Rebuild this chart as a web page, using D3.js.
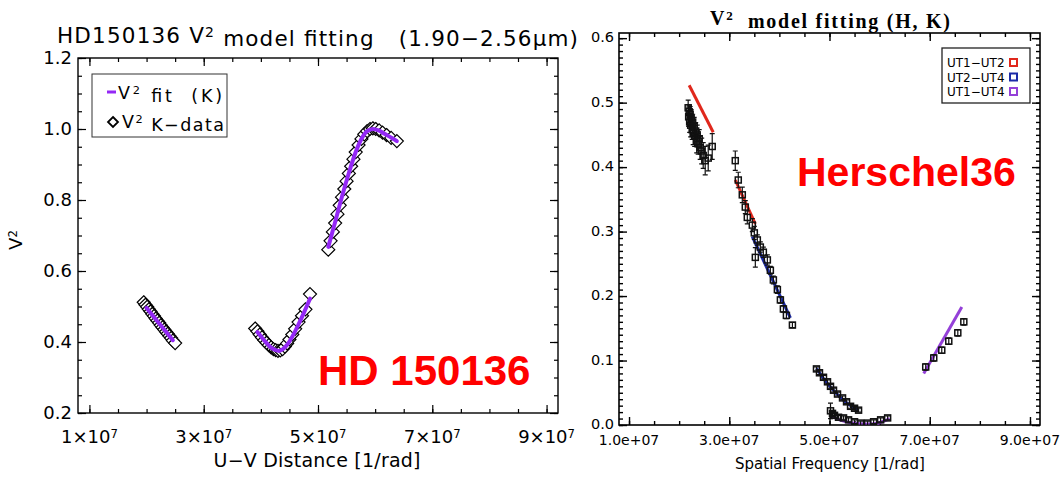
<!DOCTYPE html>
<html>
<head>
<meta charset="utf-8">
<script src="https://cdn.jsdelivr.net/npm/d3@7"></script>
<style>
  body { margin: 0; background: #fff; }
  svg { display: block; font-family: "DejaVu Sans", sans-serif; }
</style>
</head>
<body>
<svg id="chart" width="1062" height="481"></svg>
<script>
// ---------- left panel: HD150136, K band (x in units of 1e7 rad^-1)
const hdTicksX = [1, 3, 5, 7, 9];
const hdTicksY = [0.2, 0.4, 0.6, 0.8, 1.0, 1.2];

const hdX1 = [1.95, 1.98, 2.01, 2.04, 2.07, 2.10, 2.13, 2.16, 2.19, 2.22, 2.25, 2.28, 2.31, 2.34, 2.37, 2.40, 2.43, 2.46, 2.50];
const hdV1 = [0.512, 0.505, 0.499, 0.492, 0.486, 0.479, 0.473, 0.466, 0.460, 0.454, 0.447, 0.441, 0.435, 0.429, 0.423, 0.417, 0.411, 0.404, 0.397];
const hdX2 = [3.90, 3.94, 3.98, 4.02, 4.06, 4.10, 4.14, 4.18, 4.22, 4.26, 4.30, 4.34, 4.38, 4.42, 4.46, 4.50, 4.55, 4.60, 4.66, 4.72, 4.78, 4.86];
const hdV2 = [0.438, 0.430, 0.421, 0.413, 0.405, 0.398, 0.391, 0.385, 0.380, 0.377, 0.375, 0.376, 0.380, 0.387, 0.396, 0.407, 0.421, 0.437, 0.456, 0.474, 0.492, 0.535];
const hdX3 = [5.18, 5.22, 5.26, 5.30, 5.34, 5.38, 5.42, 5.46, 5.50, 5.54, 5.58, 5.62, 5.66, 5.71, 5.76, 5.81, 5.86, 5.91, 5.96, 6.01, 6.07, 6.13, 6.20, 6.28, 6.38];
const hdV3 = [0.660, 0.685, 0.710, 0.735, 0.760, 0.785, 0.808, 0.831, 0.853, 0.875, 0.895, 0.915, 0.935, 0.955, 0.972, 0.985, 0.994, 1.000, 1.002, 1.000, 0.996, 0.990, 0.983, 0.975, 0.966];

const hdFitX = [[2.00, 2.46], [3.94, 4.02, 4.10, 4.18, 4.26, 4.32, 4.38, 4.46, 4.56, 4.66, 4.76, 4.86], [5.18, 5.30, 5.42, 5.54, 5.66, 5.76, 5.86, 5.96, 6.06, 6.18, 6.30, 6.38]];
const hdFitV = [[0.496, 0.405], [0.428, 0.412, 0.397, 0.384, 0.377, 0.375, 0.379, 0.392, 0.418, 0.450, 0.485, 0.522], [0.668, 0.738, 0.810, 0.876, 0.935, 0.972, 0.994, 1.000, 0.996, 0.985, 0.974, 0.966]];

// ---------- right panel: Herschel36, H and K (x in units of 1e7 rad^-1)
const sfTicksX = [1, 3, 5, 7, 9];
const sfTicksY = [0.0, 0.1, 0.2, 0.3, 0.4, 0.5, 0.6];
const sfBaselines = ["UT1\u2212UT2", "UT2\u2212UT4", "UT1\u2212UT4"];

const sfX = [2.18, 2.19, 2.20, 2.21, 2.22, 2.23, 2.24, 2.26, 2.27, 2.28, 2.30, 2.31, 2.33, 2.35, 2.36, 2.38, 2.40, 2.42, 2.45, 2.48, 2.52, 2.58, 2.66,
  3.12, 3.18, 3.26, 3.32, 3.36,
  3.46, 3.50, 3.52, 3.56, 3.62, 3.68, 3.76, 3.82, 3.88, 3.96, 4.02, 4.08, 4.14, 4.26,
  4.74, 4.80, 4.88, 4.96, 5.02, 5.08, 5.16, 5.26, 5.34, 5.42, 5.50, 5.58,
  5.02, 5.06, 5.10, 5.18, 5.28, 5.38, 5.50, 5.62, 5.76, 5.88, 6.02, 6.16,
  6.92, 7.08, 7.24, 7.38, 7.56, 7.68];
const sfV = [0.492, 0.478, 0.486, 0.470, 0.482, 0.465, 0.476, 0.458, 0.470, 0.452, 0.463, 0.448, 0.456, 0.440, 0.450, 0.436, 0.444, 0.430, 0.425, 0.418, 0.410, 0.414, 0.432,
  0.410, 0.380, 0.357, 0.338, 0.322,
  0.310, 0.298, 0.260, 0.287, 0.276, 0.268, 0.256, 0.240, 0.225, 0.210, 0.194, 0.180, 0.170, 0.155,
  0.087, 0.081, 0.074, 0.067, 0.060, 0.054, 0.048, 0.042, 0.036, 0.029, 0.026, 0.023,
  0.022, 0.018, 0.015, 0.012, 0.011, 0.008, 0.005, 0.003, 0.003, 0.005, 0.008, 0.011,
  0.090, 0.104, 0.116, 0.130, 0.143, 0.160];
const sfErr = [0.012, 0.015, 0.010, 0.016, 0.012, 0.018, 0.013, 0.015, 0.012, 0.017, 0.014, 0.016, 0.013, 0.018, 0.015, 0.016, 0.014, 0.018, 0.020, 0.020, 0.022, 0.020, 0.020,
  0.015, 0.012, 0.012, 0.010, 0.010,
  0.010, 0.010, 0.015, 0.008, 0.008, 0.008, 0.008, 0.006, 0.006, 0.006, 0.005, 0.005, 0.005, 0.004,
  0.003, 0.003, 0.003, 0.003, 0.003, 0.003, 0.003, 0.003, 0.003, 0.003, 0.003, 0.003,
  0.012, 0.003, 0.003, 0.003, 0.003, 0.003, 0.003, 0.003, 0.003, 0.003, 0.003, 0.003,
  0.005, 0.005, 0.005, 0.005, 0.005, 0.005];

// model fits, one list of segments per baseline
const fitUT12X = [[2.20, 2.68], [3.12, 3.52]];
const fitUT12V = [[0.527, 0.454], [0.380, 0.312]];
const fitUT24X = [[3.46, 4.22], [4.74, 4.90, 5.10, 5.30, 5.50, 5.58]];
const fitUT24V = [[0.292, 0.166], [0.088, 0.070, 0.052, 0.037, 0.026, 0.022]];
const fitUT14X = [[5.02, 5.20, 5.40, 5.60, 5.75, 5.90, 6.05, 6.20], [6.88, 7.64]];
const fitUT14V = [[0.015, 0.008, 0.004, 0.002, 0.0015, 0.002, 0.005, 0.010], [0.080, 0.183]];

const svg = d3.select("#chart");

// IDL style box: inward ticks on all four sides, labels bottom/left only
function drawFrame(g, x, y, o) {
    const sides = [
        [d3.axisBottom, y.range()[0], "x"], [d3.axisTop, y.range()[1], "x"],
        [d3.axisLeft, x.range()[0], "y"], [d3.axisRight, x.range()[1], "y"]];
    sides.forEach(([axisFn, pos, dim]) => {
        const sc = dim === "x" ? x : y;
        const tr = dim === "x" ? `translate(0,${pos})` : `translate(${pos},0)`;
        g.append("g").attr("transform", tr)
            .call(axisFn(sc).tickValues(dim === "x" ? o.xMinor : o.yMinor).tickSize(-o.minor).tickFormat(""))
            .call(s => s.select(".domain").remove());
        g.append("g").attr("transform", tr)
            .call(axisFn(sc).tickValues(dim === "x" ? o.xMajor : o.yMajor).tickSize(-o.major).tickFormat(""))
            .call(s => s.select(".domain").remove());
    });
    g.selectAll(".tick line").attr("stroke", "#000").attr("stroke-width", o.tickWidth);
    g.append("rect")
        .attr("x", x.range()[0]).attr("y", y.range()[1])
        .attr("width", x.range()[1] - x.range()[0])
        .attr("height", y.range()[0] - y.range()[1])
        .attr("fill", "none").attr("stroke", "#000").attr("stroke-width", o.boxWidth);
}

function superscript(t, base, sup, size) {
    t.append("tspan").text(base);
    t.append("tspan").attr("dy", "-0.42em").attr("font-size", size || "0.65em").text(sup);
    return t;
}

// ======== left panel ========
const lx = d3.scaleLinear().domain([0.8, 9.2]).range([78, 558]);
const ly = d3.scaleLinear().domain([0.2, 1.2]).range([413, 58]);
const left = svg.append("g");

left.append("clipPath").attr("id", "clipL").append("rect")
    .attr("x", 78).attr("y", 58).attr("width", 480).attr("height", 355);

drawFrame(left, lx, ly, {
    xMajor: hdTicksX, xMinor: d3.range(1, 9.01, 0.5),
    yMajor: hdTicksY, yMinor: d3.range(0.2, 1.201, 0.05),
    major: 8, minor: 4, tickWidth: 1.2, boxWidth: 1.4
});

left.selectAll(".xlab")
    .data(hdTicksX)
    .join("text")
    .attr("class", "xlab")
    .attr("x", d => lx(d))
    .attr("y", 443)
    .attr("text-anchor", "middle")
    .attr("font-size", 18)
    .each(function(d) { superscript(d3.select(this), `${d}\u00d710`, "7"); });

left.selectAll(".ylab")
    .data(hdTicksY)
    .join("text")
    .attr("class", "ylab")
    .attr("x", 72)
    .attr("y", d => ly(d) + 6)
    .attr("text-anchor", "end")
    .attr("font-size", 18)
    .text(d => d.toFixed(1));

left.append("text")
    .attr("x", 317).attr("y", 467)
    .attr("text-anchor", "middle")
    .attr("font-size", 19)
    .attr("textLength", 207)
    .text("U\u2212V Distance [1/rad]");

superscript(left.append("text")
    .attr("transform", "translate(22,240) rotate(-90)")
    .attr("text-anchor", "middle")
    .attr("font-size", 18), "V", "2");

const title = left.append("text")
    .attr("x", 57).attr("y", 43)
    .attr("font-size", 21.5)
    .attr("textLength", 521);
title.append("tspan").text("HD150136 V");
title.append("tspan").attr("dy", "-0.42em").attr("font-size", "0.65em").text("2");
title.append("tspan").attr("dy", "0.42em").text(" model fitting \u00a0\u00a0(1.90\u22122.56\u03bcm)");

// data diamonds, then the fit on top
const diamond = (cx, cy) => `M${cx},${cy - 6.5}L${cx + 6.5},${cy}L${cx},${cy + 6.5}L${cx - 6.5},${cy}Z`;
const hdPoints = [[hdX1, hdV1], [hdX2, hdV2], [hdX3, hdV3]]
    .flatMap(([xs, vs]) => xs.map((d, i) => [d, vs[i]]));

left.append("g")
    .attr("clip-path", "url(#clipL)")
    .selectAll("path")
    .data(hdPoints)
    .join("path")
    .attr("d", d => diamond(lx(d[0]), ly(d[1])))
    .attr("fill", "#fff")
    .attr("stroke", "#000")
    .attr("stroke-width", 1.2);

const hdLine = d3.line().x(d => lx(d[0])).y(d => ly(d[1])).curve(d3.curveMonotoneX);
left.append("g")
    .selectAll("path")
    .data(hdFitX.map((xs, k) => xs.map((d, i) => [d, hdFitV[k][i]])))
    .join("path")
    .attr("d", hdLine)
    .attr("fill", "none")
    .attr("stroke", "#9428f5")
    .attr("stroke-width", 4)
    .attr("stroke-linecap", "round");

// legend
const lleg = left.append("g");
lleg.append("rect")
    .attr("x", 92).attr("y", 74).attr("width", 135).attr("height", 63)
    .attr("fill", "#fff").attr("stroke", "#333").attr("stroke-width", 1);
lleg.append("line")
    .attr("x1", 107).attr("x2", 116).attr("y1", 92).attr("y2", 92)
    .attr("stroke", "#9428f5").attr("stroke-width", 3);
lleg.append("path")
    .attr("d", `M113,117L118,122L113,127L108,122Z`)
    .attr("fill", "none").attr("stroke", "#000").attr("stroke-width", 1.8);
const leg1 = lleg.append("text").attr("x", 118).attr("y", 99).attr("font-size", 17.5).attr("textLength", 104);
leg1.append("tspan").text("V");
leg1.append("tspan").attr("dy", "-0.42em").attr("font-size", "0.65em").text("2");
leg1.append("tspan").attr("dy", "0.42em").text(" fit \u00a0(K)");
const leg2 = lleg.append("text").attr("x", 122).attr("y", 128).attr("font-size", 17.5).attr("textLength", 102);
leg2.append("tspan").text("V");
leg2.append("tspan").attr("dy", "-0.42em").attr("font-size", "0.65em").text("2");
leg2.append("tspan").attr("dy", "0.42em").text(" K\u2212data");

left.append("text")
    .attr("x", 318).attr("y", 385)
    .attr("font-family", "Liberation Sans, Arial, sans-serif")
    .attr("font-weight", "bold")
    .attr("font-size", 42)
    .attr("fill", "#ff0000")
    .text("HD 150136");

// ======== right panel ========
const rx = d3.scaleLinear().domain([0.8, 9.2]).range([619, 1040]);
const ry = d3.scaleLinear().domain([0, 0.608]).range([425, 33]);
const right = svg.append("g");

right.append("clipPath").attr("id", "clipR").append("rect")
    .attr("x", 619).attr("y", 33).attr("width", 421).attr("height", 392);

drawFrame(right, rx, ry, {
    xMajor: sfTicksX, xMinor: d3.range(1, 9.01, 0.5),
    yMajor: sfTicksY, yMinor: d3.range(0, 0.605, 0.01),
    major: 8, minor: 4, tickWidth: 1.4, boxWidth: 1.6
});

right.selectAll(".xlab")
    .data(sfTicksX)
    .join("text")
    .attr("class", "xlab")
    .attr("x", d => rx(d))
    .attr("y", 445)
    .attr("text-anchor", "middle")
    .attr("font-size", 14)
    .text(d => `${d.toFixed(1)}e+07`);

right.selectAll(".ylab")
    .data(sfTicksY)
    .join("text")
    .attr("class", "ylab")
    .attr("x", 614)
    .attr("y", d => ry(d) + 4)
    .attr("text-anchor", "end")
    .attr("font-size", 14.5)
    .text(d => d.toFixed(1));

right.append("text")
    .attr("x", 830).attr("y", 469)
    .attr("text-anchor", "middle")
    .attr("font-size", 15)
    .text("Spatial Frequency [1/rad]");

const rtitle = right.append("text")
    .attr("x", 830).attr("y", 25)
    .attr("text-anchor", "middle")
    .attr("font-family", "Liberation Serif, serif")
    .attr("font-weight", "bold")
    .attr("font-size", 20)
    .attr("textLength", 240);
rtitle.append("tspan").text("V");
rtitle.append("tspan").attr("dy", "-0.42em").attr("font-size", "0.65em").text("2");
rtitle.append("tspan").attr("dy", "0.42em").text("\u00a0 model fitting (H, K)");

// fits first, data squares with error bars above
const sfColors = ["#e0281c", "#1c2aa8", "#9440d8"];
const sfFits = [[fitUT12X, fitUT12V], [fitUT24X, fitUT24V], [fitUT14X, fitUT14V]];
const sfLine = d3.line().x(d => rx(d[0])).y(d => ry(d[1])).curve(d3.curveMonotoneX);
const fitG = right.append("g").attr("clip-path", "url(#clipR)");
sfFits.forEach(([xs, vs], k) => {
    fitG.append("g")
        .selectAll("path")
        .data(xs.map((seg, j) => seg.map((d, i) => [d, vs[j][i]])))
        .join("path")
        .attr("d", sfLine)
        .attr("fill", "none")
        .attr("stroke", sfColors[k])
        .attr("stroke-width", 3);
});

const sfPoints = sfX.map((d, i) => ({ x: d, v: sfV[i], e: sfErr[i] }));
const dataG = right.append("g").attr("clip-path", "url(#clipR)");
const pts = dataG.selectAll("g")
    .data(sfPoints)
    .join("g")
    .attr("transform", d => `translate(${rx(d.x)},0)`);
pts.append("line")
    .attr("y1", d => ry(d.v - d.e)).attr("y2", d => ry(d.v + d.e))
    .attr("stroke", "#111").attr("stroke-width", 1.2);
pts.append("path")
    .attr("d", d => `M-2.5,${ry(d.v + d.e)}H2.5M-2.5,${ry(d.v - d.e)}H2.5`)
    .attr("stroke", "#111").attr("stroke-width", 1.2);
pts.append("rect")
    .attr("x", -3).attr("y", d => ry(d.v) - 3)
    .attr("width", 6).attr("height", 6)
    .attr("fill", "none").attr("stroke", "#111").attr("stroke-width", 1.5);

// legend
const rleg = right.append("g");
rleg.append("rect")
    .attr("x", 942).attr("y", 48).attr("width", 88).attr("height", 55)
    .attr("fill", "#fff").attr("stroke", "#222").attr("stroke-width", 1.3);
rleg.selectAll(".lt")
    .data(sfBaselines)
    .join("text")
    .attr("class", "lt")
    .attr("x", 947)
    .attr("y", (d, i) => 67 + i * 14.5)
    .attr("font-size", 12)
    .text(d => d);
rleg.selectAll(".ls")
    .data(sfBaselines)
    .join("rect")
    .attr("class", "ls")
    .attr("x", 1010)
    .attr("y", (d, i) => 59 + i * 14.5)
    .attr("width", 7).attr("height", 7)
    .attr("fill", "#fff")
    .attr("stroke", (d, i) => sfColors[i])
    .attr("stroke-width", 2);

right.append("text")
    .attr("x", 797).attr("y", 186)
    .attr("font-family", "Liberation Sans, Arial, sans-serif")
    .attr("font-weight", "bold")
    .attr("font-size", 41)
    .attr("fill", "#ff0000")
    .text("Herschel36");
</script>
</body>
</html>
